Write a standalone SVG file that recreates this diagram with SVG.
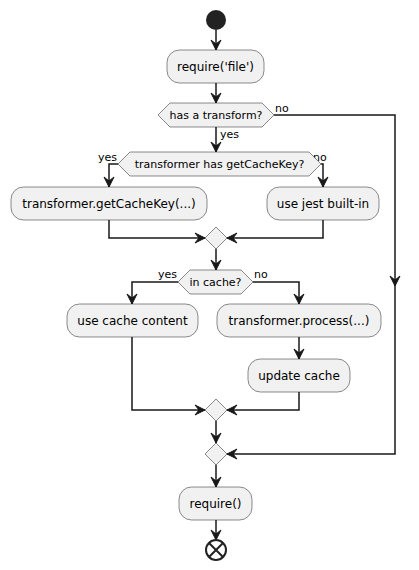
<svg xmlns="http://www.w3.org/2000/svg" width="419" height="570" viewBox="0 0 419 570">
<defs>
<marker id="ah" viewBox="-11 -6 12 12" refX="0" refY="0" markerWidth="12" markerHeight="12" markerUnits="userSpaceOnUse" orient="auto">
<path d="M0,0 L-10,-5 L-6,0 L-10,5 Z" fill="#181818" stroke="#181818" stroke-width="1"/>
</marker>
</defs>
<style>
.box{fill:#F1F1F1;stroke:#181818;stroke-width:0.5}
.t{font-family:"DejaVu Sans",sans-serif;font-size:12px;fill:#000;text-anchor:middle}
.h{font-family:"DejaVu Sans",sans-serif;font-size:11px;fill:#000;text-anchor:middle}
.l{font-family:"DejaVu Sans",sans-serif;font-size:11px;fill:#000}
.c{fill:none;stroke:#181818;stroke-width:1.5;marker-end:url(#ah)}
</style>
<g id="connectors">
<path class="c" d="M216,30 L216,50"/>
<path class="c" d="M216,83 L216,103"/>
<path class="c" d="M274,115 L395,115 L395,286"/>
<path class="c" d="M395,286 L395,454 L227,454"/>
<path class="c" d="M216,127 L216,152"/>
<path class="c" d="M118,164 L109,164 L109,187"/>
<path class="c" d="M321,164 L323,164 L323,187"/>
<path class="c" d="M109,220 L109,238 L205,238"/>
<path class="c" d="M323,220 L323,238 L227,238"/>
<path class="c" d="M216,249 L216,270"/>
<path class="c" d="M178,282 L132,282 L132,304"/>
<path class="c" d="M253,282 L299,282 L299,304"/>
<path class="c" d="M299,337 L299,359"/>
<path class="c" d="M132,337 L132,410 L205,410"/>
<path class="c" d="M299,392 L299,410 L227,410"/>
<path class="c" d="M216,421 L216,443"/>
<path class="c" d="M216,465 L216,487"/>
<path class="c" d="M216,520 L216,540"/>
<text class="l" x="275" y="112">no</text>
<text class="l" x="220" y="138">yes</text>
<text class="l" x="117" y="161" text-anchor="end">yes</text>
<text class="l" x="313" y="161">no</text>
<text class="l" x="177" y="278" text-anchor="end">yes</text>
<text class="l" x="254" y="278">no</text>
</g>
<g id="start"><circle cx="216" cy="20" r="10" fill="#222222"/></g>
<g id="require-file"><rect class="box" x="167" y="50" width="97" height="33" rx="12.5"/><text class="t" x="215.5" y="71">require('file')</text></g>
<g id="has-transform"><polygon class="box" points="158,115 170,103 262,103 274,115 262,127 170,127"/><text class="h" x="216" y="119">has a transform?</text></g>
<g id="has-getcachekey"><polygon class="box" points="118,164 130,152 309,152 321,164 309,176 130,176"/><text class="h" x="219.5" y="168">transformer has getCacheKey?</text></g>
<g id="getcachekey"><rect class="box" x="11" y="187" width="196" height="33" rx="12.5"/><text class="t" x="109" y="208">transformer.getCacheKey(...)</text></g>
<g id="jest-builtin"><rect class="box" x="267" y="187" width="112" height="33" rx="12.5"/><text class="t" x="323" y="208">use jest built-in</text></g>
<g id="merge1"><polygon class="box" points="216,227 227,238 216,249 205,238"/></g>
<g id="in-cache"><polygon class="box" points="178,282 190,270 241,270 253,282 241,294 190,294"/><text class="h" x="215.5" y="286">in cache?</text></g>
<g id="use-cache"><rect class="box" x="67" y="304" width="131" height="33" rx="12.5"/><text class="t" x="132.5" y="325">use cache content</text></g>
<g id="process"><rect class="box" x="217" y="304" width="164" height="33" rx="12.5"/><text class="t" x="299" y="325">transformer.process(...)</text></g>
<g id="update-cache"><rect class="box" x="248" y="359" width="102" height="33" rx="12.5"/><text class="t" x="299" y="380">update cache</text></g>
<g id="merge2"><polygon class="box" points="216,399 227,410 216,421 205,410"/></g>
<g id="merge3"><polygon class="box" points="216,443 227,454 216,465 205,454"/></g>
<g id="require"><rect class="box" x="179" y="487" width="73" height="33" rx="12.5"/><text class="t" x="215.5" y="508">require()</text></g>
<g id="end"><circle cx="216" cy="550" r="10" fill="none" stroke="#222222" stroke-width="2"/><path d="M209,543 L223,557 M223,543 L209,557" stroke="#222222" stroke-width="2"/></g>
</svg>
